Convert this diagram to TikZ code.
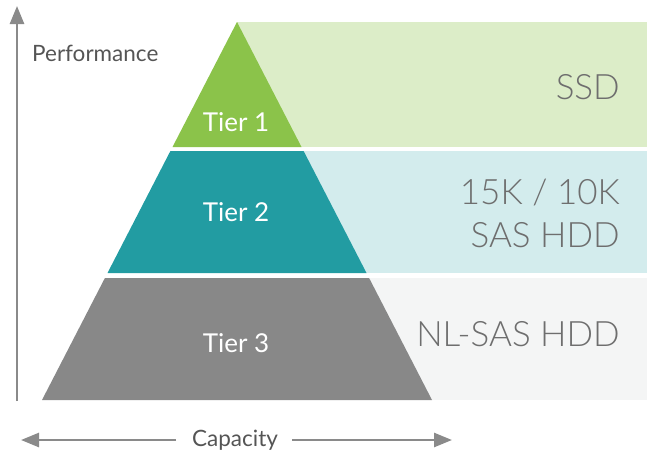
\documentclass[tikz,border=0pt]{standalone}
\usepackage{fontspec}
\setmainfont{Lato}
\newfontfamily\lightfont{Lato Light}
\usetikzlibrary{arrows.meta}
\definecolor{tgreen}{HTML}{8BC34A}
\definecolor{pgreen}{HTML}{DCEDC8}
\definecolor{tteal}{HTML}{229CA2}
\definecolor{pteal}{HTML}{D3ECED}
\definecolor{tgray}{HTML}{888888}
\definecolor{pgray}{HTML}{F4F5F5}
\definecolor{axisgray}{HTML}{8A8A8A}
\definecolor{labgray}{HTML}{6E6E6E}
\definecolor{axtext}{HTML}{555555}
\tikzset{
  axisline/.style={draw=axisgray, line width=2.6pt, -{Triangle[width=14pt,length=18pt]}},
  tierlab/.style={text=white, font=\fontsize{26}{30}\selectfont, inner sep=0pt},
  disklab/.style={text=labgray, font=\lightfont\fontsize{35}{40}\selectfont, inner sep=0pt, anchor=east, align=right},
  axlab/.style={text=axtext, font=\fontsize{22.5}{26}\selectfont, inner sep=0pt},
}
\begin{document}
\begin{tikzpicture}[x=1pt,y=-1pt]
\useasboundingbox (0,0) rectangle (647,455);
% panels
\fill[pgreen] (237,22) rectangle (647,147);
\fill[pteal] (237,151) rectangle (647,273);
\fill[pgray] (237,278) rectangle (647,400);
% tiers
\fill[tgreen] (237,22) -- (301.5,147) -- (172.5,147) -- cycle;
\fill[tteal] (170.4,151) -- (303.6,151) -- (366.5,273) -- (107.5,273) -- cycle;
\fill[tgray] (104.9,278) -- (369.1,278) -- (432,400) -- (42,400) -- cycle;
% tier labels
\node[tierlab] (t1) at (236,122) {Tier 1};
\node[tierlab] (t2) at (236,212) {Tier 2};
\node[tierlab] (t3) at (236,343) {Tier 3};
% disk labels
\node[disklab] (ssd) at (620,87) {SSD};
\node[disklab] (sas1) at (620,192) {15K / 10K};
\node[disklab] (sas2) at (620,235) {SAS HDD};
\node[disklab] (nl) at (620,334) {NL-SAS HDD};
% axes
\coordinate (vbot) at (17,401);
\coordinate (vtop) at (17,6);
\draw[axisline] (vbot) -- (vtop);
\node[axlab, anchor=west] (perf) at (32,53) {Performance};
\node[axlab] (cap) at (235,440) {Capacity};
\coordinate (hl) at (21,440);
\coordinate (hr) at (452,440);
\coordinate (hlin) at (176,440);
\coordinate (hrin) at (292,440);
\draw[axisline] (hlin) -- (hl);
\draw[axisline] (hrin) -- (hr);
\end{tikzpicture}
\end{document}
